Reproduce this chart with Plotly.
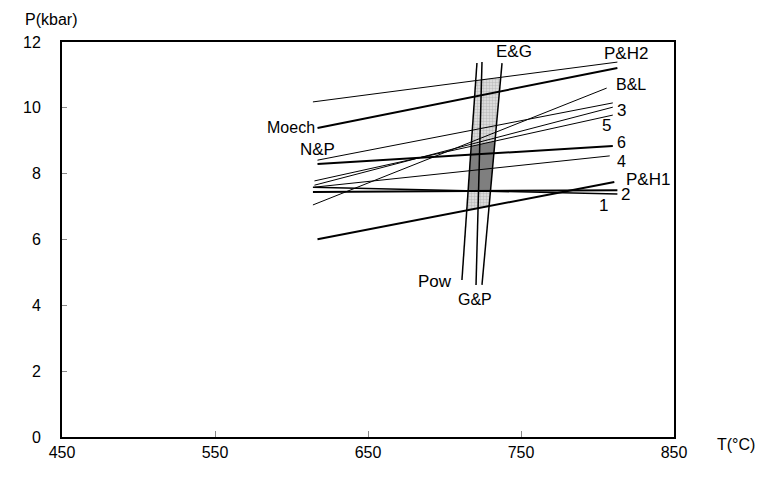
import plotly.graph_objects as go

# Barometer lines: name, T start, P start, T end, P end
baro_names = ["P&H2", "Moech", "B&L", "3a", "3b", "5", "6", "4", "P&H1", "2", "1"]
baro_t0 = [614, 617, 614, 617, 615, 615, 617, 615, 617, 614, 614]
baro_p0 = [10.18, 9.39, 7.05, 8.41, 7.65, 7.78, 8.29, 7.59, 6.01, 7.44, 7.59]
baro_t1 = [813, 813, 806, 810, 810, 810, 810, 808, 811, 813, 813]
baro_p1 = [11.39, 11.21, 10.60, 10.15, 10.02, 9.78, 8.84, 8.54, 7.75, 7.50, 7.38]
baro_w = [1, 2, 1, 1, 1, 1, 2, 1, 2, 2, 1.5]

# Thermometer lines: name, T top, P top, T bottom, P bottom
thermo_names = ["Pow", "G&P", "E&G"]
thermo_t0 = [721.2, 724.5, 737.6]
thermo_p0 = [11.36, 11.39, 11.36]
thermo_t1 = [711.4, 720.6, 724.5]
thermo_p1 = [4.77, 4.62, 4.62]

x_ticks = [450, 550, 650, 750, 850]
y_ticks = [0, 2, 4, 6, 8, 10, 12]

FONT = "Liberation Sans, Arial, sans-serif"
FS = 17


def seg(names, t0, p0, t1, p1, name):
    i = names.index(name)
    return (t0[i], p0[i], t1[i], p1[i])


def intersect(a, b):
    x1, y1, x2, y2 = a
    x3, y3, x4, y4 = b
    d = (x1 - x2) * (y3 - y4) - (y1 - y2) * (x3 - x4)
    px = ((x1 * y2 - y1 * x2) * (x3 - x4) - (x1 - x2) * (x3 * y4 - y3 * x4)) / d
    py = ((x1 * y2 - y1 * x2) * (y3 - y4) - (y1 - y2) * (x3 * y4 - y3 * x4)) / d
    return px, py


def quad(left, right, top, bottom):
    pts = [intersect(left, top), intersect(right, top),
           intersect(right, bottom), intersect(left, bottom)]
    pts.append(pts[0])
    return [p[0] for p in pts], [p[1] for p in pts]


B = lambda n: seg(baro_names, baro_t0, baro_p0, baro_t1, baro_p1, n)
T = lambda n: seg(thermo_names, thermo_t0, thermo_p0, thermo_t1, thermo_p1, n)

fig = go.Figure()

# light dotted band
lx, ly = quad(T("Pow"), T("E&G"), B("P&H2"), B("P&H1"))
fig.add_trace(go.Scatter(x=lx, y=ly, mode="lines", fill="toself",
                         line=dict(width=0, color="rgba(0,0,0,0)"),
                         fillcolor="#d6d6d6",
                         fillpattern=dict(shape=".", fgcolor="#9a9a9a", bgcolor="#e4e4e4",
                                          size=3, solidity=0.5),
                         hoverinfo="skip", showlegend=False))
# dark band
dx, dy = quad(T("Pow"), T("E&G"), B("5"), B("2"))
fig.add_trace(go.Scatter(x=dx, y=dy, mode="lines", fill="toself",
                         line=dict(width=0, color="rgba(0,0,0,0)"),
                         fillcolor="#7f7f7f", hoverinfo="skip", showlegend=False))

for i, n in enumerate(baro_names):
    fig.add_trace(go.Scatter(x=[baro_t0[i], baro_t1[i]], y=[baro_p0[i], baro_p1[i]],
                             mode="lines", line=dict(color="black", width=baro_w[i]),
                             name=n, showlegend=False))
for i, n in enumerate(thermo_names):
    fig.add_trace(go.Scatter(x=[thermo_t0[i], thermo_t1[i]], y=[thermo_p0[i], thermo_p1[i]],
                             mode="lines", line=dict(color="black", width=1.5),
                             name=n, showlegend=False))

labels = [
    ("Moech", 616.3, 9.39, "right", 16),
    ("N&P", 617.3, 8.72, "center", FS),
    ("E&G", 745.4, 11.70, "center", FS),
    ("P&H2", 818.6, 11.66, "center", FS),
    ("B&L", 821.9, 10.72, "center", 16),
    ("3", 816.0, 9.93, "center", FS),
    ("5", 805.6, 9.45, "center", FS),
    ("6", 815.4, 8.96, "center", 16),
    ("4", 816.0, 8.38, "center", 16),
    ("P&H1", 833.0, 7.81, "center", FS),
    ("2", 818.0, 7.38, "center", FS),
    ("1", 803.6, 7.03, "center", FS),
    ("Pow", 693.8, 4.71, "center", FS),
    ("G&P", 719.9, 4.19, "center", 16),
]
annotations = []
for txt, x, y, xa, fs in labels:
    annotations.append(dict(text=txt, x=x, y=y, xref="x", yref="y", showarrow=False,
                            xanchor=xa, yanchor="middle", borderpad=0,
                            font=dict(family=FONT, size=fs, color="black")))
annotations.append(dict(text="P(kbar)", x=-0.018, y=1.056, xref="paper", yref="paper",
                        showarrow=False, xanchor="center", yanchor="middle",
                        font=dict(family=FONT, size=16, color="black")))
annotations.append(dict(text="T(°C)", x=1.101, y=-0.018, xref="paper", yref="paper",
                        showarrow=False, xanchor="center", yanchor="middle",
                        font=dict(family=FONT, size=16, color="black")))

fig.update_layout(
    width=761, height=487,
    margin=dict(l=62, r=87, t=42, b=50),
    paper_bgcolor="white", plot_bgcolor="white",
    annotations=annotations,
    font=dict(family=FONT, size=FS, color="black"),
)
fig.update_xaxes(range=[450, 850], tickvals=x_ticks, ticktext=[str(v) for v in x_ticks],
                 showgrid=False, zeroline=False, showline=True, mirror=True,
                 linecolor="black", linewidth=2, ticks="inside", ticklen=6,
                 tickcolor="#888", tickwidth=1, ticklabelstandoff=0,
                 tickfont=dict(family=FONT, size=16, color="black"))
fig.update_yaxes(range=[0, 12], tickvals=y_ticks, ticktext=[str(v) for v in y_ticks],
                 showgrid=False, zeroline=False, showline=True, mirror=True,
                 linecolor="black", linewidth=2, ticks="inside", ticklen=5,
                 tickcolor="#888", tickwidth=1, ticklabelstandoff=16,
                 tickfont=dict(family=FONT, size=16, color="black"))

fig.write_html("out.html")
